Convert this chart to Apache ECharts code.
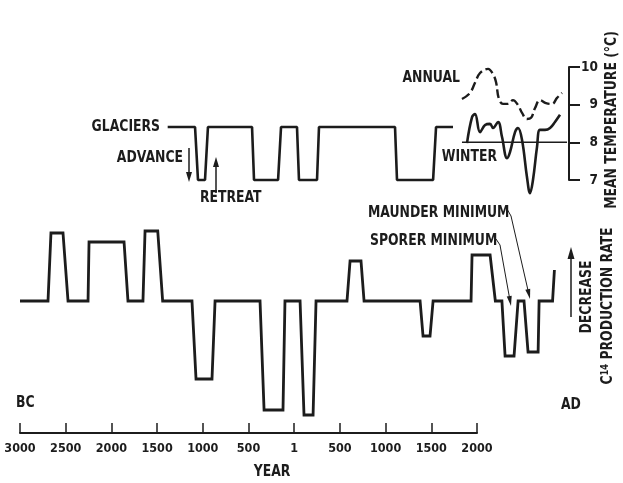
<!DOCTYPE html>
<html>
<head>
<meta charset="utf-8">
<script src="https://cdn.jsdelivr.net/npm/echarts@6/dist/echarts.min.js"></script>
<style>
  html, body { margin: 0; padding: 0; background: #fff; }
  #chart { width: 623px; height: 483px; }
</style>
</head>
<body>
<div id="chart"></div>
<script>
// C14 production rate, relative units (up = decrease)
var c14Years  = [-3000, -2744, -2717, -2607, -2561, -2378, -2369, -2049, -2013, -1876, -1857, -1741, -1696,
                 -1428, -1391, -1245, -1217, -806, -769, -596, -578, -440, -404, -321, -294,
                 -11, 17, 117, 145, 657, 684, 748, 776, 1123, 1132, 1297, 1345, 1405,
                 1434, 1516, 1553, 1607, 1644, 1736, 1745, 1868, 1885];
var c14Values = [0, 0, 6.8, 6.8, 0, 0, 5.9, 5.9, 0, 0, 7.0, 7.0, 0,
                 0, -7.8, -7.8, 0, 0, -10.9, -10.9, 0, 0, -11.4, -11.4, 0,
                 0, 4.0, 4.0, 0, 0, -3.5, -3.5, 0, 0, 4.6, 4.6, 0, 0,
                 -5.5, -5.5, 0, 0, -5.1, -5.1, 0, 0, 3.1];

// glaciers: 1 = retreat, 0 = advance
var glacierYears = [-1650, -1400, -1373, -1309, -1282, -879, -861, -641, -614, -468, -450, -285, -267, 428, 446, 776, 803, 958];
var glacierState = [1, 1, 0, 0, 1, 1, 0, 0, 1, 1, 0, 0, 1, 1, 0, 0, 1, 1];

// mean temperature (°C)
var annualYears = [1040, 1113, 1159, 1205, 1278, 1324, 1351, 1378, 1415, 1461, 1506, 1552, 1589, 1634, 1671, 1708, 1753, 1808, 1863, 1909, 1955];
var annualTemp  = [9.15, 9.31, 9.58, 9.84, 9.95, 9.81, 9.60, 9.15, 9.02, 9.02, 9.12, 8.99, 8.78, 8.62, 8.65, 8.91, 9.12, 9.04, 9.02, 9.18, 9.31];
var winterYears = [1086, 1132, 1159, 1205, 1251, 1296, 1324, 1370, 1406, 1452, 1479, 1525, 1552, 1589, 1634, 1662, 1689, 1726, 1753, 1799, 1845, 1890, 1936];
var winterTemp  = [7.98, 8.67, 8.75, 8.27, 8.46, 8.49, 8.38, 8.54, 8.14, 7.58, 7.74, 8.27, 8.38, 8.06, 7.08, 6.65, 7.00, 7.88, 8.33, 8.33, 8.38, 8.54, 8.73];
var refYears = [1040, 2000];
var refTemp  = [8, 8];

var tempTicks = [7, 8, 9, 10];
var yearTicks = [-3000, -2500, -2000, -1500, -1000, -500, 0, 500, 1000, 1500, 2000];

var INK = '#1c1c1c';
var FONT = '"Liberation Sans Narrow", "DejaVu Sans Condensed", "Liberation Sans", sans-serif';

function zip(a, b) {
  return a.map(function (v, i) { return [v, b[i]]; });
}

function label(text, x, y, align, rot) {
  return {
    type: 'text', x: x, y: y, rotation: rot || 0, scaleX: 0.92, silent: true,
    style: { text: text, fontFamily: FONT, fontSize: 15, fontWeight: 'bold', fill: INK,
             align: align || 'left', verticalAlign: 'middle' }
  };
}

function arrow(pts, head, w, lw) {
  var n = pts.length;
  var x1 = pts[n - 2][0], y1 = pts[n - 2][1], x2 = pts[n - 1][0], y2 = pts[n - 1][1];
  var len = Math.hypot(x2 - x1, y2 - y1), ux = (x2 - x1) / len, uy = (y2 - y1) / len;
  var bx = x2 - ux * head, by = y2 - uy * head;
  var shaft = pts.slice(0, n - 1).concat([[bx + ux, by + uy]]);
  return [
    { type: 'polyline', silent: true, shape: { points: shaft }, style: { stroke: INK, lineWidth: lw, fill: null } },
    { type: 'polygon', silent: true, shape: { points: [[x2, y2], [bx - uy * w / 2, by + ux * w / 2], [bx + uy * w / 2, by - ux * w / 2]] },
      style: { fill: INK } }
  ];
}

var hiddenX = function (i) {
  return { type: 'value', gridIndex: i, min: -3000, max: 2000, show: false };
};

var graphics = [
  label('GLACIERS', 160, 127, 'right'),
  label('ADVANCE', 183, 158, 'right'),
  label('RETREAT', 200, 198, 'left'),
  label('ANNUAL', 460, 78, 'right'),
  label('WINTER', 497, 157, 'right'),
  label('MAUNDER MINIMUM', 368, 213, 'left'),
  label('SPORER MINIMUM', 370, 241, 'left'),
  label('BC', 16, 403, 'left'),
  label('AD', 561, 405, 'left'),
  label('YEAR', 272, 472, 'center'),
  label('DECREASE', 587, 297, 'center', Math.PI / 2),
  label('MEAN TEMPERATURE (°C)', 612, 120, 'center', Math.PI / 2),
  {
    type: 'text', x: 608, y: 306, rotation: Math.PI / 2, scaleX: 0.92, silent: true,
    style: {
      text: '{a|C}{b|14}{a| PRODUCTION RATE}',
      align: 'center', verticalAlign: 'middle',
      rich: {
        a: { fontFamily: FONT, fontSize: 15, fontWeight: 'bold', fill: INK, color: INK },
        b: { fontFamily: FONT, fontSize: 10, fontWeight: 'bold', fill: INK, color: INK, verticalAlign: 'top' }
      }
    }
  }
]
  .concat(arrow([[189, 148], [189, 182]], 10, 6, 1.5))
  .concat(arrow([[216, 193], [216, 157]], 10, 6, 1.5))
  .concat(arrow([[571, 317], [571, 247]], 12, 7, 1.5))
  .concat(arrow([[507, 209], [511, 216], [530, 299]], 10, 5, 1))
  .concat(arrow([[496, 239], [500, 245], [511, 306]], 10, 5, 1));

var chart = echarts.init(document.getElementById('chart'));

var option = {
  backgroundColor: '#fff',
  animation: false,
  grid: [
    { left: 20, right: 56, top: 191, bottom: 42 },
    { left: 20, right: 56, top: 127, height: 53 },
    { left: 20, right: 56, top: 67, height: 113 },
    { left: 20, right: 146, top: 400, bottom: 50 }
  ],
  xAxis: [
    hiddenX(0), hiddenX(1), hiddenX(2),
    {
      type: 'value', gridIndex: 3, min: yearTicks[0], max: yearTicks[yearTicks.length - 1], interval: 500,
      axisLine: { show: true, onZero: false, lineStyle: { color: INK, width: 2 } },
      axisTick: { show: true, inside: true, length: 10, lineStyle: { color: INK, width: 1.5 } },
      splitLine: { show: false },
      axisLabel: {
        margin: 9, color: INK, fontSize: 12.5, fontWeight: 'bold', fontFamily: FONT,
        showMinLabel: true, showMaxLabel: true,
        formatter: function (v) { return v === 0 ? '1' : String(Math.abs(v)); }
      }
    }
  ],
  yAxis: [
    { type: 'value', gridIndex: 0, min: -14, max: 11, show: false },
    { type: 'value', gridIndex: 1, min: 0, max: 1, show: false },
    {
      type: 'value', gridIndex: 2, min: tempTicks[0], max: tempTicks[tempTicks.length - 1], interval: 1,
      position: 'right', offset: 2,
      axisLine: { show: true, onZero: false, lineStyle: { color: INK, width: 2 } },
      axisTick: { show: true, inside: false, length: 11, lineStyle: { color: INK, width: 2 } },
      splitLine: { show: false },
      axisLabel: { margin: 29, align: 'right', color: INK, fontSize: 13.5, fontWeight: 'bold', fontFamily: FONT }
    },
    { type: 'value', gridIndex: 3, min: 0, max: 1, show: false }
  ],
  series: [
    {
      name: 'C14', type: 'line', xAxisIndex: 0, yAxisIndex: 0, clip: false, symbol: 'none', silent: true,
      data: zip(c14Years, c14Values),
      lineStyle: { color: INK, width: 2.8, join: 'miter' }
    },
    {
      name: 'Glaciers', type: 'line', xAxisIndex: 1, yAxisIndex: 1, clip: false, symbol: 'none', silent: true,
      data: zip(glacierYears, glacierState),
      lineStyle: { color: INK, width: 2.6 }
    },
    {
      name: 'Annual', type: 'line', xAxisIndex: 2, yAxisIndex: 2, clip: false, symbol: 'none', silent: true,
      smooth: 0.4, data: zip(annualYears, annualTemp),
      lineStyle: { color: INK, width: 2.4, type: [9, 4] }
    },
    {
      name: 'Winter', type: 'line', xAxisIndex: 2, yAxisIndex: 2, clip: false, symbol: 'none', silent: true,
      smooth: 0.4, data: zip(winterYears, winterTemp),
      lineStyle: { color: INK, width: 2.6 }
    },
    {
      name: 'ref', type: 'line', xAxisIndex: 2, yAxisIndex: 2, clip: false, symbol: 'none', silent: true,
      data: zip(refYears, refTemp),
      lineStyle: { color: INK, width: 1.5 }
    }
  ],
  graphic: graphics
};

chart.setOption(option);
window.addEventListener('resize', chart.resize);
</script>
</body>
</html>
